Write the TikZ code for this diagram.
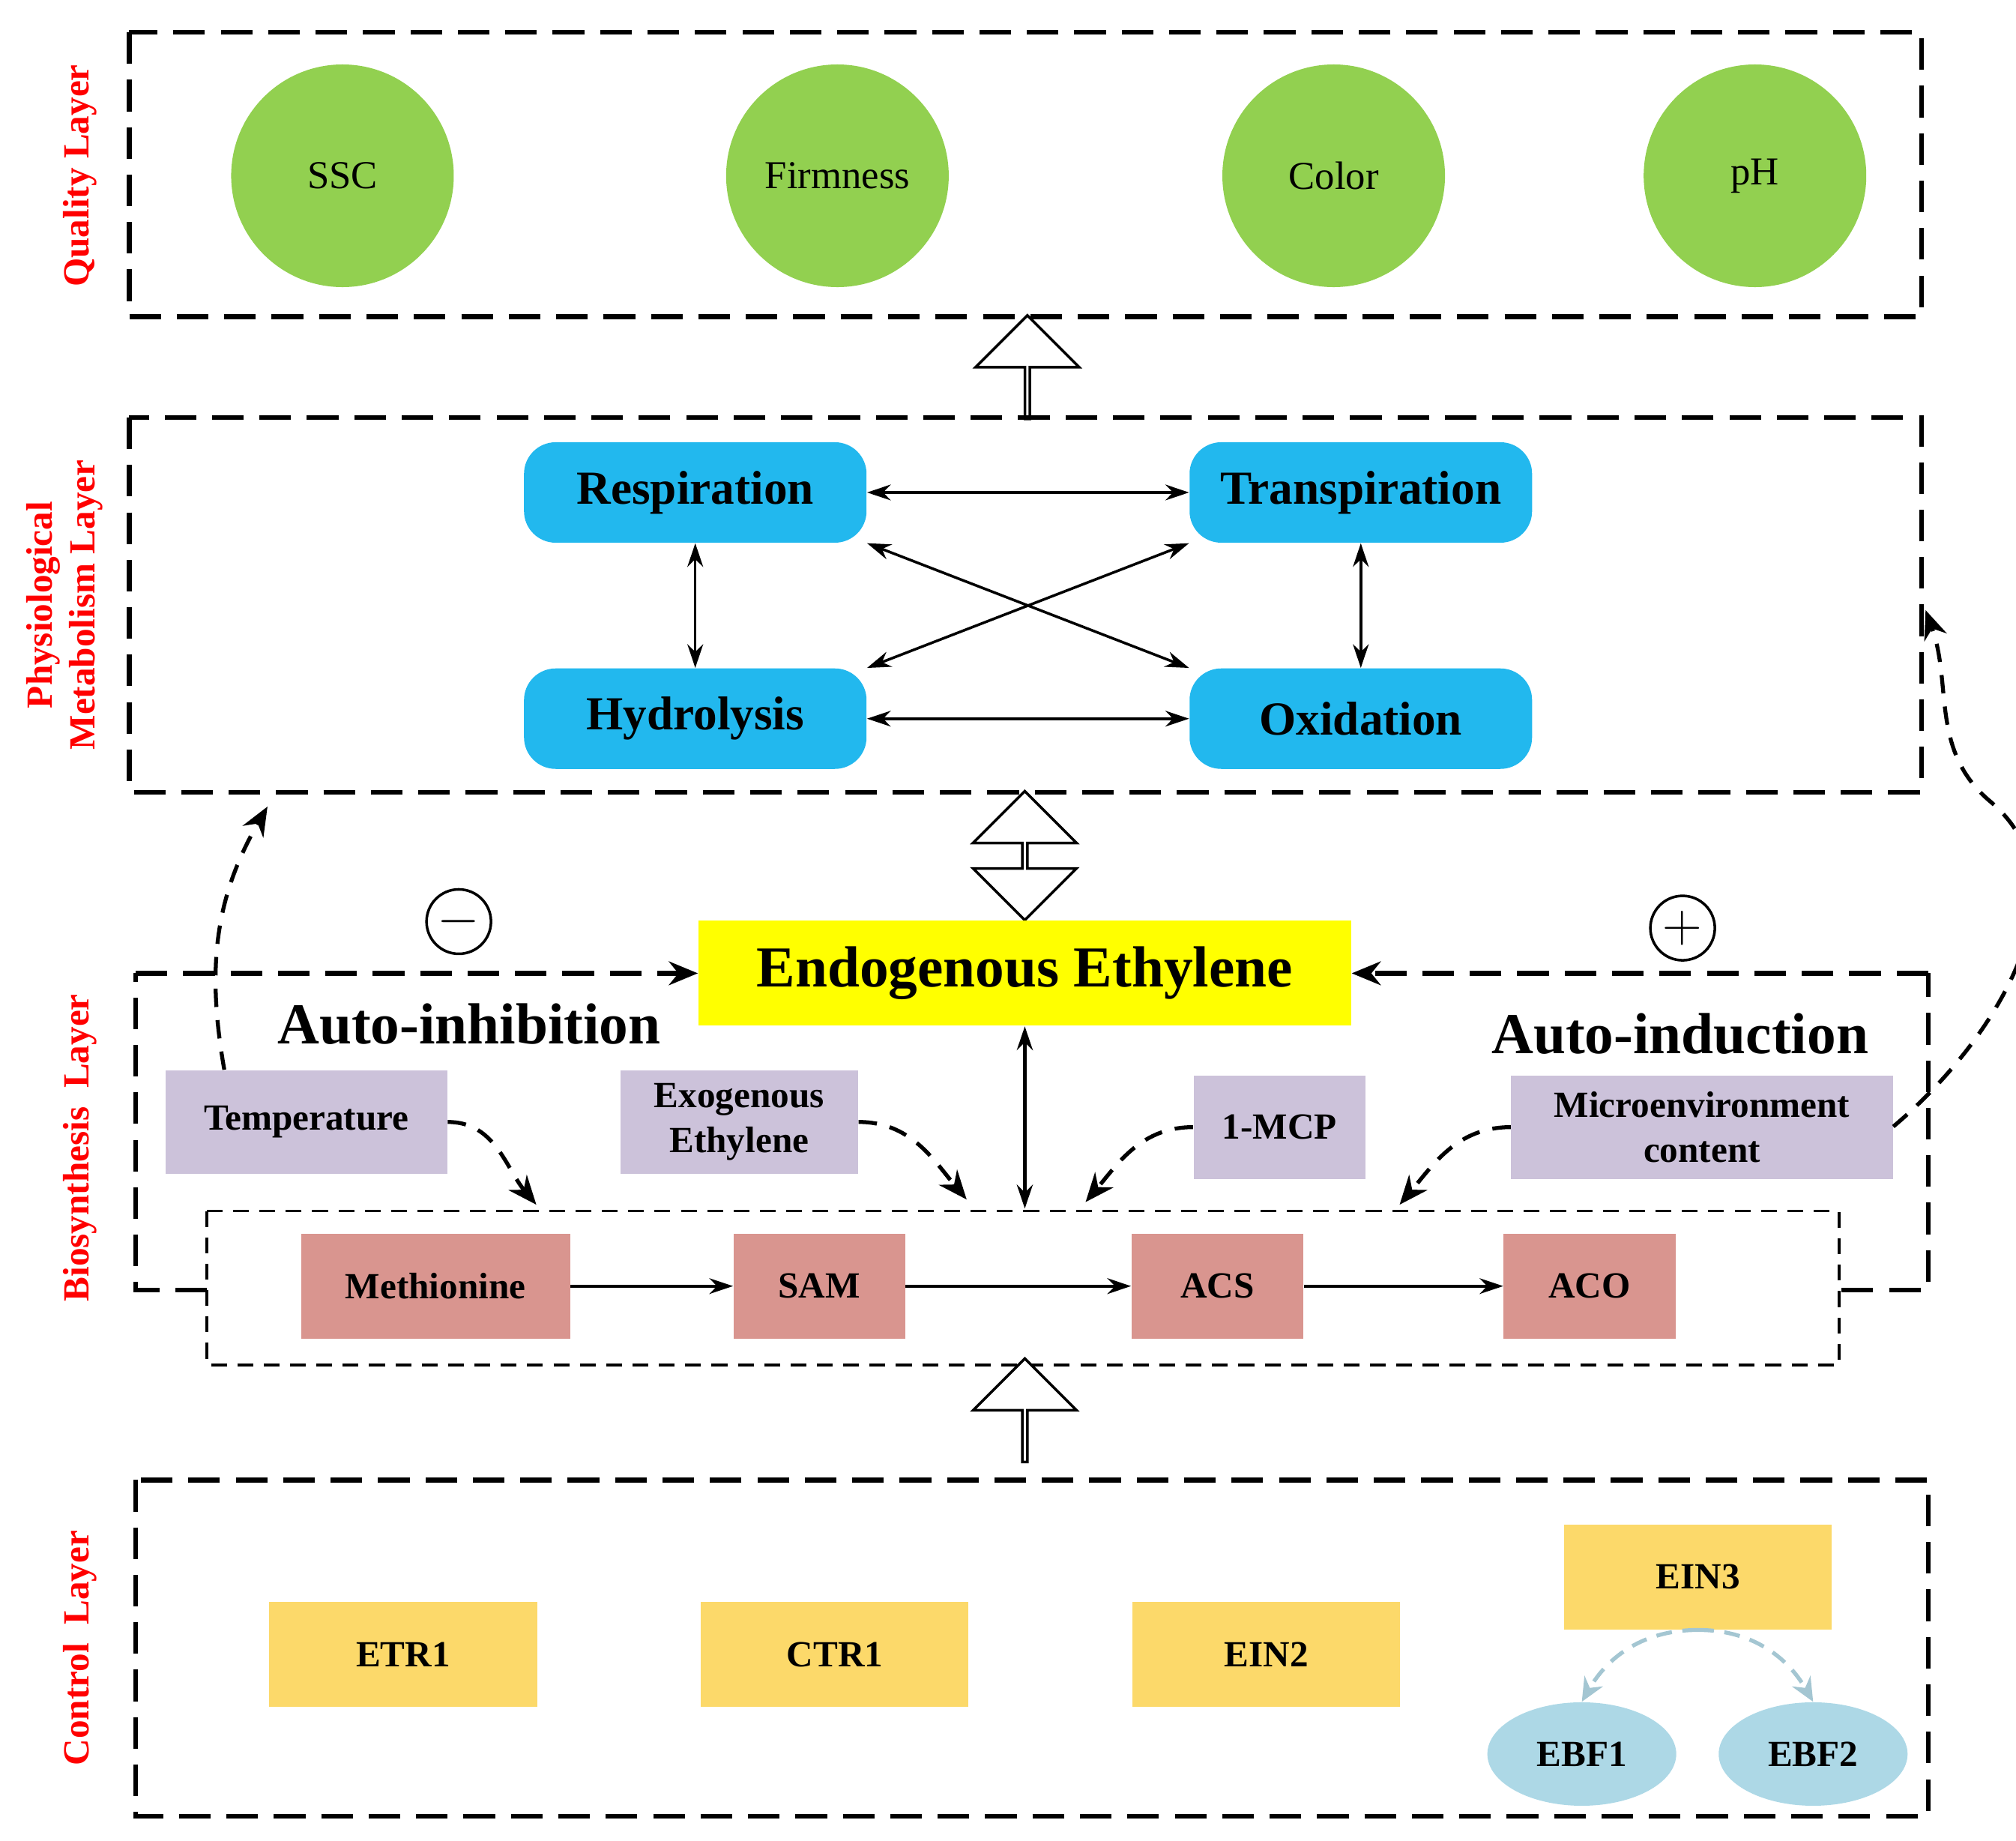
\documentclass[tikz,border=0pt]{standalone}
\usepackage{fontspec}
\setmainfont{Liberation Serif}
\usetikzlibrary{shapes.geometric,shapes.arrows,arrows.meta}

\definecolor{qualgreen}{RGB}{146,208,80}
\definecolor{physblue}{RGB}{34,184,238}
\definecolor{ethyellow}{RGB}{255,255,0}
\definecolor{factpurple}{RGB}{204,194,218}
\definecolor{biopink}{RGB}{217,149,143}
\definecolor{ctrlyellow}{RGB}{252,217,106}
\definecolor{ebfblue}{RGB}{173,216,230}

\tikzset{
  layer/.style={dash pattern=on 12pt off 6pt,line width=1.8pt},
  layerlabel/.style={rotate=90,text=red,font=\fontsize{14}{16}\selectfont\bfseries,align=center},
  quality/.style={circle,fill=qualgreen,minimum size=2.97cm,inner sep=0pt,font=\fontsize{15}{17}\selectfont},
  process/.style={rounded corners=12pt,fill=physblue,minimum width=4.57cm,minimum height=1.34cm,font=\fontsize{18}{20}\selectfont\bfseries},
  factor/.style={fill=factpurple,minimum height=1.38cm,inner sep=2pt,align=center,font=\fontsize{14}{17}\selectfont\bfseries},
  pathstep/.style={fill=biopink,minimum height=1.40cm,font=\fontsize{14}{16}\selectfont\bfseries},
  gene/.style={fill=ctrlyellow,minimum width=3.57cm,minimum height=1.40cm,font=\fontsize{14}{16}\selectfont\bfseries},
  ebf/.style={ellipse,fill=ebfblue,minimum width=2.52cm,minimum height=1.38cm,inner sep=0pt,font=\fontsize{14}{16}\selectfont\bfseries},
  link/.style={{Stealth[length=9pt,width=6pt]}-{Stealth[length=9pt,width=6pt]},line width=1pt},
  flow/.style={-{Stealth[length=9pt,width=6pt]},line width=1pt},
  effect/.style={-{Stealth[length=11pt,width=9pt]},dash pattern=on 7pt off 5pt,line width=1.5pt},
  hollow/.style={draw,line width=1pt,fill=white,inner sep=0pt,minimum width=1.38cm,single arrow head extend=0.345cm,shape border rotate=90,minimum height=1.38cm},
}

\begin{document}
\begin{tikzpicture}[x=0.01724cm,y=-0.01724cm]
\useasboundingbox (0,0) rectangle (1560,1424);

% quality layer
\draw[layer] (100,25) rectangle (1487,245);
\node[layerlabel] (qlab) at (62,136) {Quality Layer};
\node[quality] (ssc) at (265,136) {SSC};
\node[quality] (firm) at (648,136) {Firmness};
\node[quality] (color) at (1032,136) {Color};
\node[quality] (ph) at (1358,136) {pH};

\node[hollow,single arrow] (up1) at (795,285) {};

% physiological metabolism layer
\draw[layer] (100,323) rectangle (1487,613);
\node[layerlabel] (plab) at (50,468) {Physiological\\Metabolism Layer};
\node[process] (resp) at (538,381) {Respiration};
\node[process] (trans) at (1053,381) {Transpiration};
\node[process] (hydro) at (538,556) {Hydrolysis};
\node[process] (oxid) at (1053,556) {Oxidation};
\draw[link] (resp.east) -- (trans.west);
\draw[link] (hydro.east) -- (oxid.west);
\draw[link] (resp.south) -- (hydro.north);
\draw[link] (trans.south) -- (oxid.north);
\draw[link] (resp.south east) -- (oxid.north west);
\draw[link] (trans.south west) -- (hydro.north east);

\node[hollow,double arrow,double arrow head extend=0.345cm,minimum height=1.72cm] (updown) at (793,662) {};

% biosynthesis layer
\node[fill=ethyellow,minimum width=8.71cm,minimum height=1.40cm,font=\fontsize{22}{24}\selectfont\bfseries] (ethyl) at (793,753) {Endogenous Ethylene};
\draw[layer] (160,998) -- (105,998) -- (105,753);
\draw[layer] (1425,998) -- (1492,998) -- (1492,753);
\draw[effect,dash pattern=on 12pt off 6pt,line width=1.8pt] (105,753) -- (ethyl.west);
\draw[effect,dash pattern=on 12pt off 6pt,line width=1.8pt] (1492,753) -- (ethyl.east);
\node[layerlabel] (blab) at (62,888) {Biosynthesis\ \ Layer};
\node[circle,draw,line width=1pt,minimum size=0.86cm,inner sep=0pt,font=\fontsize{22}{22}\selectfont] (minus) at (355,713) {$-$};
\node[circle,draw,line width=1pt,minimum size=0.86cm,inner sep=0pt,font=\fontsize{22}{22}\selectfont] (plus) at (1302,718) {$+$};
\node[font=\fontsize{22}{24}\selectfont\bfseries] (inhib) at (363,792) {Auto-inhibition};
\node[font=\fontsize{22}{24}\selectfont\bfseries] (induc) at (1300,800) {Auto-induction};

\node[factor,minimum width=3.76cm] (temp) at (237,868) {Temperature};
\node[factor,minimum width=3.17cm] (exo) at (572,868) {Exogenous\\Ethylene};
\node[factor,minimum width=2.29cm] (mcp) at (990,872) {1-MCP};
\node[factor,minimum width=5.09cm] (micro) at (1317,872) {Microenvironment\\content};

\draw[dash pattern=on 6pt off 4pt,line width=1pt] (160,937) rectangle (1423,1056);
\coordinate (tin) at (415,932);
\coordinate (ein) at (748,928);
\coordinate (min) at (840,930);
\coordinate (cin) at (1083,932);
\coordinate (pin) at (793,935);
\coordinate (pbl) at (207,624);
\coordinate (pbr) at (1490,472);
\draw[effect] (temp.east) to[out=0,in=130] (tin);
\draw[effect] (exo.east) to[out=0,in=130] (ein);
\draw[effect] (mcp.west) to[out=180,in=50] (min);
\draw[effect] (micro.west) to[out=180,in=50] (cin);
\draw[effect] (temp.north west) ++(46,0) to[out=100,in=240] (pbl);
\draw[effect] (micro.north east) ++(0,40) to[out=40,in=-40] (1540,620) to[out=140,in=-70] (pbr);
\draw[link,line width=1.5pt] (ethyl.south) -- (pin);

\node[pathstep,minimum width=3.59cm] (meth) at (337,995) {Methionine};
\node[pathstep,minimum width=2.29cm] (sam) at (634,995) {SAM};
\node[pathstep,minimum width=2.29cm] (acs) at (942,995) {ACS};
\node[pathstep,minimum width=2.29cm] (aco) at (1230,995) {ACO};
\draw[flow] (meth) -- (sam);
\draw[flow] (sam) -- (acs);
\draw[flow] (acs) -- (aco);

\node[hollow,single arrow] (up2) at (793,1092) {};

% control layer
\draw[layer] (105,1145) rectangle (1492,1405);
\node[layerlabel] (clab) at (62,1275) {Control\ \ Layer};
\node[gene] (etr) at (312,1280) {ETR1};
\node[gene] (ctr) at (646,1280) {CTR1};
\node[gene] (ein2) at (980,1280) {EIN2};
\node[gene] (ein3) at (1314,1220) {EIN3};
\node[ebf] (ebf1) at (1224,1357) {EBF1};
\node[ebf] (ebf2) at (1403,1357) {EBF2};
\draw[-{Stealth[length=9pt,width=8pt]},ebfblue!80!gray,dash pattern=on 6pt off 4pt,line width=1.5pt] (ein3.south) to[out=180,in=60] (ebf1.north);
\draw[-{Stealth[length=9pt,width=8pt]},ebfblue!80!gray,dash pattern=on 6pt off 4pt,line width=1.5pt] (ein3.south) to[out=0,in=120] (ebf2.north);

\end{tikzpicture}
\end{document}
